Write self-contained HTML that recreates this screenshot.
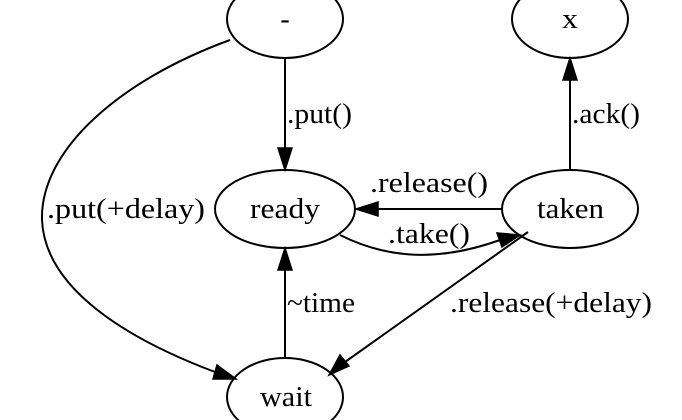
<!DOCTYPE html>
<html><head><style>
html,body{margin:0;padding:0;background:#fff;}
svg{display:block;}
</style></head><body>
<svg width="682" height="420" viewBox="0 0 682 420" xmlns="http://www.w3.org/2000/svg" font-family="Liberation Serif, serif" font-size="28">
<g fill="none" stroke="#000" stroke-width="2">
<ellipse cx="285" cy="19" rx="58" ry="39"/>
<ellipse cx="570" cy="19" rx="58" ry="39"/>
<ellipse cx="285" cy="209" rx="70" ry="39"/>
<ellipse cx="570" cy="209" rx="68" ry="39"/>
<ellipse cx="285" cy="397" rx="58" ry="39"/>
<line x1="285" y1="58" x2="285" y2="148"/>
<line x1="570" y1="170" x2="570" y2="80"/>
<line x1="502" y1="209" x2="378" y2="209"/>
<line x1="285" y1="358" x2="285" y2="270"/>
<path d="M340 235 C380 255 430 265 500 240"/>
<line x1="528" y1="232" x2="345" y2="362"/>
<path d="M230 40 C120 80 40 150 42 220 C45 290 130 340 215 372"/>
</g>
<g fill="#000" stroke="#000" stroke-width="1.5">
<polygon points="278,148 292,148 285,170"/>
<polygon points="563,80 577,80 570,58"/>
<polygon points="378,202 378,216 356,209"/>
<polygon points="278,270 292,270 285,248"/>
<polygon points="497,233 502,247 520,235"/>
<polygon points="340,355 349,366 329,375"/>
<polygon points="213,379 217,365 236,379"/>
</g>
<g fill="#000">
<text x="285" y="28" text-anchor="middle">-</text>
<text x="562" y="28" textLength="16" lengthAdjust="spacingAndGlyphs">x</text>
<text x="250" y="218" textLength="70" lengthAdjust="spacingAndGlyphs">ready</text>
<text x="537" y="218" textLength="67" lengthAdjust="spacingAndGlyphs">taken</text>
<text x="260" y="406" textLength="52" lengthAdjust="spacingAndGlyphs">wait</text>
<text x="287" y="123" textLength="65" lengthAdjust="spacingAndGlyphs">.put()</text>
<text x="572" y="123" textLength="68" lengthAdjust="spacingAndGlyphs">.ack()</text>
<text x="370" y="192" textLength="118" lengthAdjust="spacingAndGlyphs">.release()</text>
<text x="388" y="243" textLength="82" lengthAdjust="spacingAndGlyphs">.take()</text>
<text x="287" y="312" textLength="68" lengthAdjust="spacingAndGlyphs">~time</text>
<text x="450" y="312" textLength="202" lengthAdjust="spacingAndGlyphs">.release(+delay)</text>
<text x="47" y="218" textLength="158" lengthAdjust="spacingAndGlyphs">.put(+delay)</text>
</g>
</svg>
</body></html>
